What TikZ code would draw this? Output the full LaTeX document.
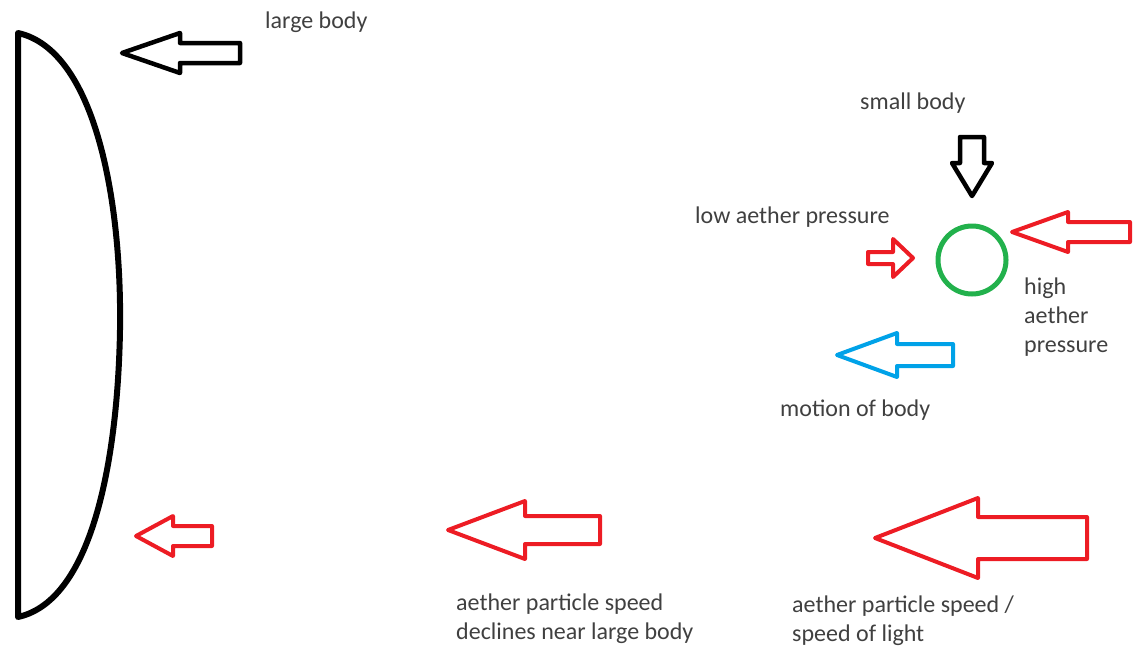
\documentclass[tikz,border=0pt]{standalone}
\usepackage{fontspec}
\setmainfont{Carlito}
\definecolor{paintred}{RGB}{237,28,36}
\definecolor{paintgreen}{RGB}{34,177,76}
\definecolor{paintblue}{RGB}{0,162,232}
\definecolor{labelgray}{RGB}{64,64,64}

\begin{document}
\begin{tikzpicture}[x=1pt, y=-1pt,
    bodytext/.style={text=labelgray, font=\fontsize{24}{29}\selectfont, inner sep=0pt, anchor=base west, align=left},
    redarrow/.style={draw=paintred, line width=4pt, line join=round},
    blackarrow/.style={draw=black, line width=4.5pt, line join=round}]
    \useasboundingbox (0,0) rectangle (1134,648);

    % Large body
    \draw[line width=6pt, line cap=round, line join=round] (18,33) -- (18,617)
        .. controls (95,600) and (118,450) .. (120,330)
        .. controls (122,200) and (95,50) .. cycle;
    \node[bodytext] (large) at (265,28) {large body};
    \draw[blackarrow] (122,53) -- (180,33) -- (180,43) -- (240,43) -- (240,63) -- (180,63) -- (180,73) -- cycle;

    % Small body and the pressure around it
    \draw[paintgreen, line width=5pt] (972,260) circle (34pt);
    \node[bodytext] (small) at (860,109) {small body};
    \draw[blackarrow] (972,196) -- (952,163) -- (960,163) -- (960,137) -- (984,137) -- (984,163) -- (992,163) -- cycle;
    \node[bodytext] (low) at (695,223) {low aether pressure};
    \draw[redarrow] (913,258) -- (893,239) -- (893,252) -- (868,252) -- (868,264) -- (893,264) -- (893,277) -- cycle;
    \draw[redarrow] (1012,232) -- (1068,212) -- (1068,222) -- (1130,222) -- (1130,242) -- (1068,242) -- (1068,252) -- cycle;
    \node[bodytext] (high) at (1024,352) {high\\aether\\pressure};

    % Motion of the small body
    \draw[paintblue, line width=4pt, line join=round] (837,355) -- (897,333) -- (897,344) -- (953,344) -- (953,366) -- (897,366) -- (897,377) -- cycle;
    \node[bodytext] (motion) at (780,416) {motion of body};

    % Aether particle speed, growing away from the large body
    \draw[redarrow] (136,536) -- (173,516) -- (173,526) -- (212,526) -- (212,546) -- (173,546) -- (173,556) -- cycle;
    \draw[redarrow] (448,530) -- (525,501) -- (525,516) -- (600,516) -- (600,544) -- (525,544) -- (525,559) -- cycle;
    \draw[redarrow] (875,538) -- (978,498) -- (978,517) -- (1087,517) -- (1087,559) -- (978,559) -- (978,578) -- cycle;
    \node[bodytext] (decline) at (456,639) {aether particle speed\\declines near large body};
    \node[bodytext] (light) at (792,641) {aether particle speed /\\speed of light};
\end{tikzpicture}
\end{document}
